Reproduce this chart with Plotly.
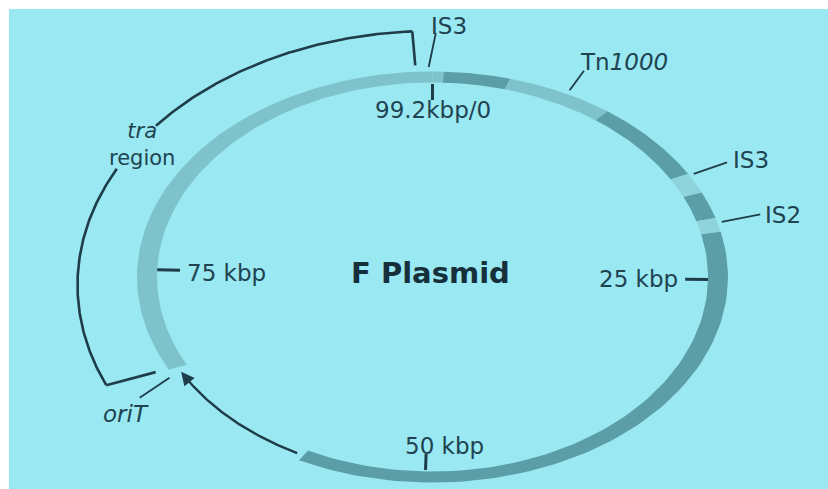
import numpy as np
import plotly.graph_objects as go

# ---------------- data ----------------
TOTAL_KBP = 99.2
seg_start = [0.0, 0.6, 4.2, 10.0, 16.5, 18.1, 20.2, 21.3, 67.0]
seg_end = [0.6, 4.2, 10.0, 16.5, 18.1, 20.2, 21.3, 57.0, 99.2]
seg_shade = ["light", "dark", "light", "dark", "pale", "dark", "pale", "dark", "light"]

tick_kbp = [0, 25, 50, 75]
tick_labels = ["99.2kbp/0", "25 kbp", "50 kbp", "75 kbp"]

feature_names = ["IS3", "Tn<i>1000</i>", "IS3", "IS2", "<i>oriT</i>"]
feature_kbp = [99.0, 7.5, 16.7, 20.6, 66.5]

tra_start_kbp = 68.0
tra_end_kbp = 98.3
tra_label_gap = [81.9, 85.1]
transfer_arrow_kbp = [57.4, 66.6]

title_text = "F Plasmid"

# ---------------- geometry / style ----------------
W, H = 828, 489
CX, CY = 432.5, 277.0
RX, RY = 285.5, 200.0
HX, HY = 10.0, 5.5
BR_CX, BR_CY, BR_RX, BR_RY = 432.5, 285.0, 355.0, 254.0

BG = "#99e8f2"
SHADES = {"light": "#7ec3cc", "dark": "#5c9ea7", "pale": "#8fd3dc"}
DARK = "#1f3c49"
TEXT = "#1f4350"
FONT = "DejaVu Sans"


def ang(k):
    return 2 * np.pi * np.asarray(k, dtype=float) / TOTAL_KBP


def pt(k, sx=1.0, sy=None, cx=CX, cy=CY, rx=RX, ry=RY):
    sy = sx if sy is None else sy
    t = ang(k)
    return cx + rx * sx * np.sin(t), cy - ry * sy * np.cos(t)


fig = go.Figure()


def line(xs, ys, width=2.0, color=DARK):
    fig.add_trace(go.Scatter(x=list(np.atleast_1d(xs)), y=list(np.atleast_1d(ys)),
                             mode="lines", line=dict(color=color, width=width),
                             hoverinfo="skip", showlegend=False))


# ring segments
for s, e, sh in zip(seg_start, seg_end, seg_shade):
    k = np.linspace(s, e, 80)
    xo, yo = pt(k, (RX + HX) / RX, (RY + HY) / RY)
    xi, yi = pt(k[::-1], (RX - HX) / RX, (RY - HY) / RY)
    fig.add_trace(go.Scatter(x=list(xo) + list(xi) + [xo[0]], y=list(yo) + list(yi) + [yo[0]],
                             mode="lines", fill="toself", fillcolor=SHADES[sh],
                             line=dict(width=0, color=SHADES[sh]),
                             hoverinfo="skip", showlegend=False))

# ticks and tick labels
tick_lab_off = [(0, -5, "center"), (-5, 0, "right"), (-23, -8, "left"), (5, 3, "left")]
annotations = []
for k, lab, (dx, dy, anc) in zip(tick_kbp, tick_labels, tick_lab_off):
    x0, y0 = pt(k, 0.965)
    x1, y1 = pt(k, 0.885)
    line([x0, x1], [y0, y1], width=3)
    if k == 0:
        lx, ly = pt(k, 0.81)
    else:
        lx, ly = x1, y1
    annotations.append(dict(x=lx + dx, y=ly + dy, xref="x", yref="y", text=lab,
                            showarrow=False, xanchor=anc, yanchor="middle",
                            font=dict(family=FONT, size=23, color=TEXT)))

# feature pointers
ptr_dk = [0.35, 0.0, 0.1, 0.0, -0.5]
ptr_rend = [1.22, 1.16, 1.18, 1.19, 1.19]
lab_off = [(-7, -7, "left"), (-6, -9, "left"), (4, -2, "left"), (3, 1, "left"), (-14, 16, "center")]
for name, k, dk, re, (dx, dy, anc) in zip(feature_names, feature_kbp, ptr_dk, ptr_rend, lab_off):
    xs, ys = pt(k, 1.05)
    xe, ye = pt(k + dk, re)
    line([xs, xe], [ys, ye], width=1.8)
    annotations.append(dict(x=xe + dx, y=ye + dy, xref="x", yref="y", text=name,
                            showarrow=False, xanchor=anc, yanchor="middle",
                            font=dict(family=FONT, size=23, color=TEXT)))

# tra region bracket
for a, b in [(tra_start_kbp, tra_label_gap[0]), (tra_label_gap[1], tra_end_kbp)]:
    kk = np.linspace(a, b, 120)
    bx, by = pt(kk, cx=BR_CX, cy=BR_CY, rx=BR_RX, ry=BR_RY)
    line(bx, by, width=2.6)
tx0, ty0 = pt(tra_end_kbp, cx=BR_CX, cy=BR_CY, rx=BR_RX, ry=BR_RY)
tx1, ty1 = pt(tra_end_kbp, 1.06)
line([tx0, tx1], [ty0, ty1], width=2.6)
bx0, by0 = pt(tra_start_kbp, cx=BR_CX, cy=BR_CY, rx=BR_RX, ry=BR_RY)
bx1, by1 = pt(tra_start_kbp - 0.8, 1.08)
line([bx0, bx1], [by0, by1], width=2.6)

gm = 0.5 * (tra_label_gap[0] + tra_label_gap[1])
gx, gy = pt(gm, cx=BR_CX, cy=BR_CY, rx=BR_RX, ry=BR_RY)
annotations.append(dict(x=gx + 7, y=gy - 2, xref="x", yref="y", text="<i>tra</i><br>region",
                        showarrow=False, xanchor="center", yanchor="middle", align="center",
                        font=dict(family=FONT, size=21, color=TEXT)))

# transfer direction arrow
ka = np.linspace(transfer_arrow_kbp[0], transfer_arrow_kbp[1] - 0.6, 80)
axs, ays = pt(ka)
line(axs, ays, width=2.4)
hx, hy = pt(transfer_arrow_kbp[1])
hbx, hby = pt(transfer_arrow_kbp[1] - 0.8)
annotations.append(dict(x=hx, y=hy, ax=hbx, ay=hby, xref="x", yref="y", axref="x", ayref="y",
                        text="", showarrow=True, arrowhead=2, arrowsize=1.1, arrowwidth=2.4,
                        arrowcolor=DARK))

# center title
annotations.append(dict(x=CX - 2, y=CY - 4, xref="x", yref="y", text="<b>" + title_text + "</b>",
                        showarrow=False, xanchor="center", yanchor="middle",
                        font=dict(family=FONT, size=29, color="#16303b")))

fig.update_layout(
    width=W, height=H,
    margin=dict(l=0, r=0, t=0, b=0),
    paper_bgcolor="white", plot_bgcolor="white",
    xaxis=dict(range=[0, W], visible=False, fixedrange=True),
    yaxis=dict(range=[H, 0], visible=False, fixedrange=True),
    shapes=[dict(type="rect", xref="x", yref="y", x0=9, y0=9, x1=W, y1=H,
                 fillcolor=BG, line=dict(width=0), layer="below")],
    annotations=annotations,
    showlegend=False,
)

fig.write_html(
    "out.html",
    config={"displayModeBar": False, "staticPlot": True},
    post_script="document.body.style.margin='0';document.body.style.overflow='hidden';",
)
